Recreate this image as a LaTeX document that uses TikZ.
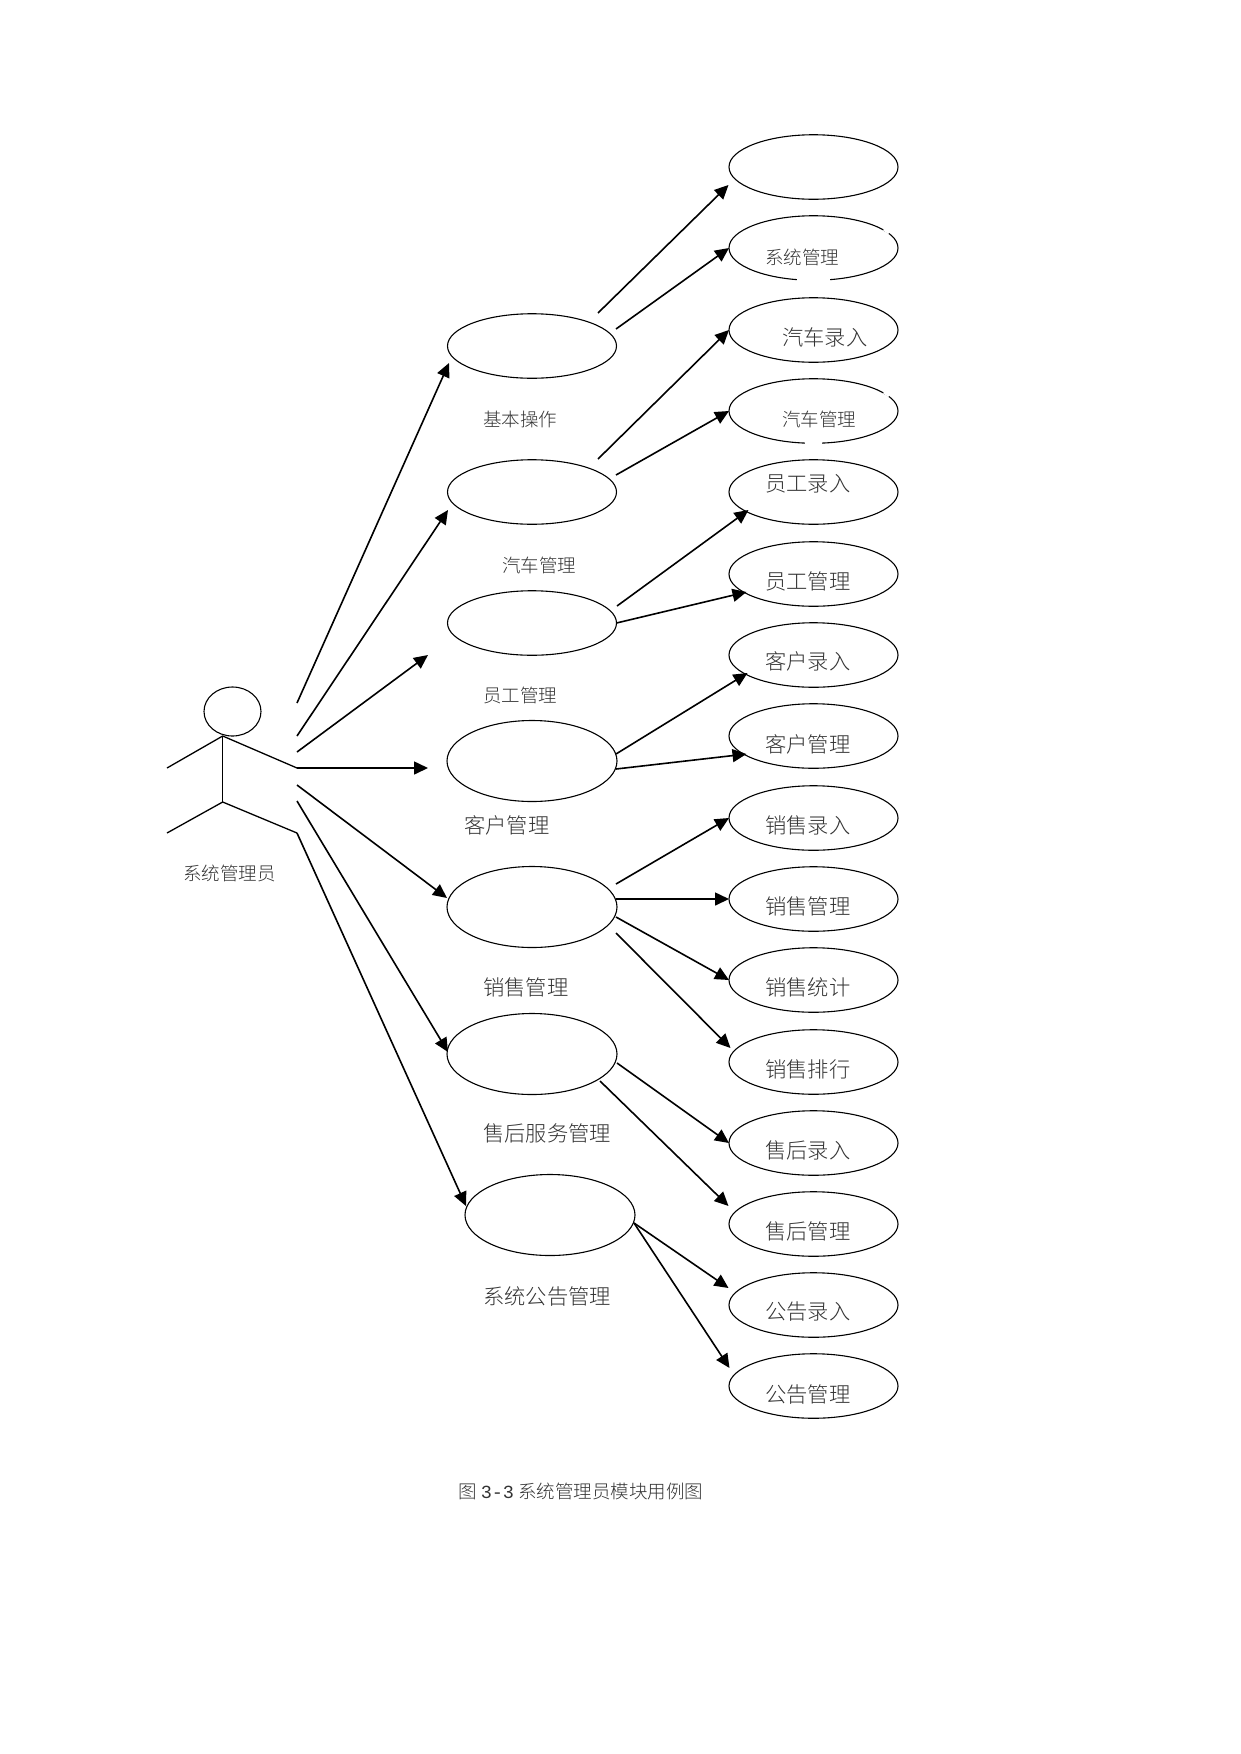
\documentclass[tikz,border=0pt]{standalone}
\usepackage{fontspec}
\setmainfont{Liberation Sans}
\newfontfamily\cjk[UprightFont=* Light]{Noto Sans CJK SC}
\newfontfamily\digits{Liberation Mono}
\usetikzlibrary{shapes.geometric,arrows.meta}
\tikzstyle{usecase} = [draw, ellipse, line width=1.1pt, inner sep=0pt, outer sep=0pt, minimum width=169pt, minimum height=64.5pt]
\tikzstyle{module} = [usecase, minimum width=170pt, minimum height=81pt]
\tikzstyle{small} = [anchor=west, inner sep=0pt, text=black!80, font=\cjk\fontsize{18.5pt}{20pt}\selectfont]
\tikzstyle{large} = [anchor=west, inner sep=0pt, text=black!80, font=\cjk\fontsize{21.3pt}{23pt}\selectfont]
\tikzstyle{to} = [->,>={Triangle[length=14pt,width=13pt]},line width=1.6pt]
\tikzstyle{limb} = [line width=1.3pt]
\tikzstyle{gap} = [white, line width=3pt]

\begin{document}
\begin{tikzpicture}[x=1pt,y=-1pt]
	\useasboundingbox (0,0) rectangle (1241,1754);
	% actor
	\node (head) [draw, ellipse, line width=1.1pt, inner sep=0pt, minimum width=57pt, minimum height=49pt] at (232.5,711.5) {};
	\coordinate (neck) at (222.7,736);
	\coordinate (hip) at (222.7,802);
	\coordinate (lefthand) at (167,768);
	\coordinate (hand) at (297,768);
	\coordinate (leftfoot) at (167,833);
	\coordinate (foot) at (297,833);
	\coordinate (a1) at (297,703);
	\coordinate (a2) at (297,736);
	\coordinate (a3) at (297,752);
	\coordinate (a5) at (297,785);
	\coordinate (a6) at (297,801);
	\coordinate (thick) at (333,768);
	\draw [limb] (lefthand) -- (neck) -- (hand);
	\draw [limb] (neck) -- (hip);
	\draw [limb] (leftfoot) -- (hip) -- (foot);
	\node (manager) [small] at (183,873) {系统管理员};
	% modules
	\node (base) [usecase] at (532,346) {};
	\node (car) [usecase] at (532,492) {};
	\node (staff) [usecase] at (532,623) {};
	\node (client) [module] at (532,761) {};
	\node (sale) [module] at (532,907) {};
	\node (after) [module] at (532,1054) {};
	\node (notice) [module] at (550,1215) {};
	% use cases
	\node (u1) [usecase] at (813.5,167) {};
	\node (u2) [usecase] at (813.5,248) {};
	\node (u3) [usecase] at (813.5,330) {};
	\node (u4) [usecase] at (813.5,411) {};
	\node (u5) [usecase] at (813.5,492) {};
	\node (u6) [usecase] at (813.5,574) {};
	\node (u7) [usecase] at (813.5,655) {};
	\node (u8) [usecase] at (813.5,736) {};
	\node (u9) [usecase] at (813.5,818) {};
	\node (u10) [usecase] at (813.5,899) {};
	\node (u11) [usecase] at (813.5,980) {};
	\node (u12) [usecase] at (813.5,1062) {};
	\node (u13) [usecase] at (813.5,1143) {};
	\node (u14) [usecase] at (813.5,1224) {};
	\node (u15) [usecase] at (813.5,1305) {};
	\node (u16) [usecase] at (813.5,1386) {};
	% breaks in two outlines
	\draw [gap] (797,279.5) -- (830,279.5);
	\draw [gap] (884,229) -- (889,233);
	\draw [gap] (805,443) -- (822,443);
	\draw [gap] (884,392) -- (889,396);
	% module labels
	\node (baselabel) [small] at (483,419) {基本操作};
	\node (carlabel) [small] at (502,565) {汽车管理};
	\node (stafflabel) [small] at (483,695) {员工管理};
	\node (clientlabel) [large] at (464,825) {客户管理};
	\node (salelabel) [large] at (483,987) {销售管理};
	\node (afterlabel) [large] at (483,1133) {售后服务管理};
	\node (noticelabel) [large] at (483,1297) {系统公告管理};
	% use case labels
	\node (t2) [small] at (765,257) {系统管理};
	\node (t3) [large] at (782,337) {汽车录入};
	\node (t4) [small] at (782,419) {汽车管理};
	\node (t5) [large] at (765,484) {员工录入};
	\node (t6) [large] at (765,581) {员工管理};
	\node (t7) [large] at (765,661) {客户录入};
	\node (t8) [large] at (765,744) {客户管理};
	\node (t9) [large] at (765,825) {销售录入};
	\node (t10) [large] at (765,906) {销售管理};
	\node (t11) [large] at (765,987) {销售统计};
	\node (t12) [large] at (765,1069) {销售排行};
	\node (t13) [large] at (765,1150) {售后录入};
	\node (t14) [large] at (765,1231) {售后管理};
	\node (t15) [large] at (765,1312) {公告录入};
	\node (t16) [large] at (765,1395) {公告管理};
	\node (caption) [small] at (458,1491) {图 {\digits 3-3} 系统管理员模块用例图};
	% actor to modules
	\draw [to] (a1) -- ([shift={(-83,17)}]base.center);
	\draw [to] (a2) -- ([shift={(-84,18)}]car.center);
	\draw [to] (a3) -- ([shift={(-104,32)}]staff.center);
	\draw [to] (hand) -- ([shift={(-104,7)}]client.center);
	\draw [line width=2.6pt] (hand) -- (thick);
	\draw [to] (a5) -- ([shift={(-85,-9)}]sale.center);
	\draw [to] (a6) -- ([shift={(-84,-2)}]after.center);
	\draw [to] (foot) -- ([shift={(-84,-9)}]notice.center);
	% modules to use cases
	\draw [to] ([shift={(66,-33)}]base.center) -- ([shift={(-85,18)}]u1.center);
	\draw [to] ([shift={(84,-17)}]base.center) -- (u2.west);
	\draw [to] ([shift={(66,-33)}]car.center) -- (u3.west);
	\draw [to] ([shift={(84,-17)}]car.center) -- (u4.west);
	\draw [to] ([shift={(85,-17)}]staff.center) -- ([shift={(-65,18)}]u5.center);
	\draw [to] (staff.east) -- ([shift={(-67,18)}]u6.center);
	\draw [to] ([shift={(84,-7)}]client.center) -- ([shift={(-66,18)}]u7.center);
	\draw [to] ([shift={(84,8)}]client.center) -- ([shift={(-67,18)}]u8.center);
	\draw [to] ([shift={(84,-23)}]sale.center) -- (u9.west);
	\draw [to] ([shift={(84,-8)}]sale.center) -- (u10.west);
	\draw [to] ([shift={(84,10)}]sale.center) -- (u11.west);
	\draw [to] ([shift={(84,26)}]sale.center) -- ([shift={(-83,-14)}]u12.center);
	\draw [to] ([shift={(85,9)}]after.center) -- (u13.west);
	\draw [to] ([shift={(68,27)}]after.center) -- ([shift={(-85,-18)}]u14.center);
	\draw [to] ([shift={(84,8)}]notice.center) -- ([shift={(-85,-17)}]u15.center);
	\draw [to] ([shift={(84,8)}]notice.center) -- ([shift={(-84,-18)}]u16.center);
\end{tikzpicture}
\end{document}
